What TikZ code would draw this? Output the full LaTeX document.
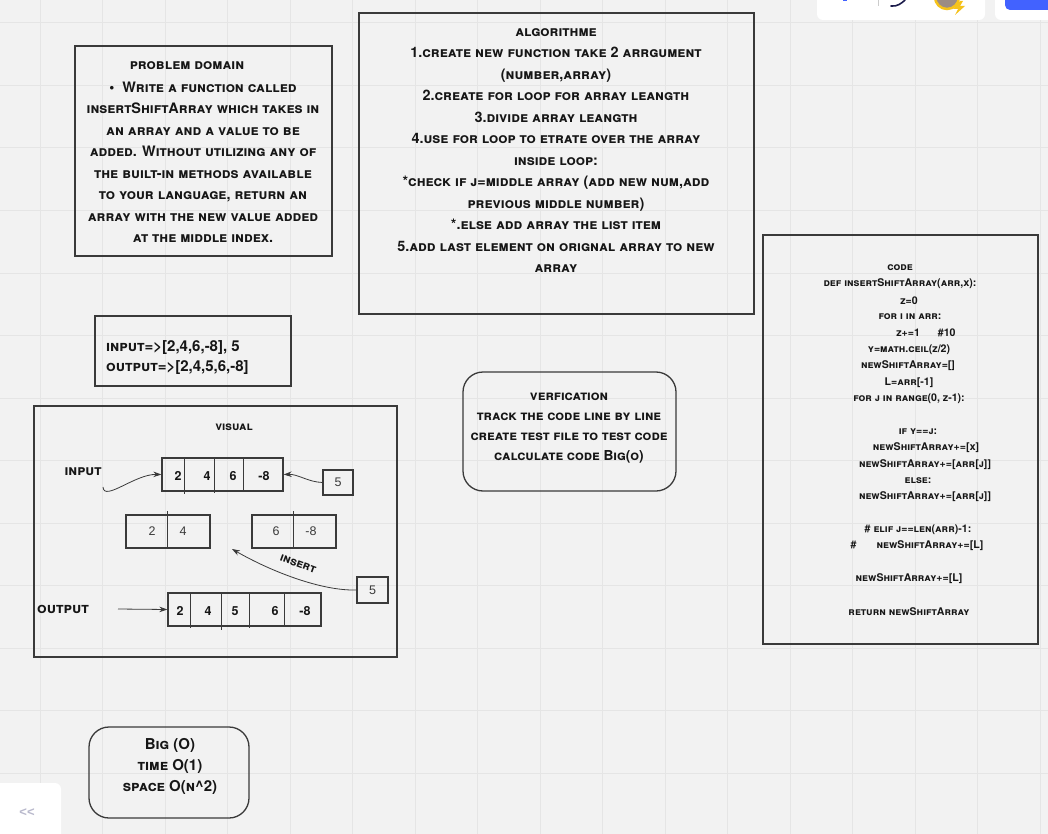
\documentclass[tikz,border=0pt]{standalone}
\usepackage{fontspec}
\newfontfamily\handfont[Letters=SmallCaps]{TeX Gyre Heros}
\newfontfamily\plainfont{Liberation Sans}
\usetikzlibrary{arrows.meta,positioning}

\definecolor{boardbg}{HTML}{F2F2F2}
\definecolor{gridline}{HTML}{E5E5E5}
\definecolor{boxline}{HTML}{3A3A3A}
\definecolor{inkcol}{HTML}{161616}
\definecolor{toolblue}{HTML}{4262FF}
\definecolor{toolnavy}{HTML}{1B1B4B}
\definecolor{avatarring}{HTML}{F5C21B}
\definecolor{avatarface}{HTML}{9C8C84}
\definecolor{chevron}{HTML}{B9B9CC}

\begin{document}
\begin{tikzpicture}[x=1pt,y=-1pt,
    frame/.style={draw=boxline,line width=1.3pt,inner sep=0pt},
    roundframe/.style={frame,rounded corners=20pt},
    hand/.style={font=\handfont\bfseries\fontsize{14.4}{21.5}\selectfont,text=inkcol,inner sep=0pt},
    handmid/.style={font=\handfont\bfseries\fontsize{13.7}{20}\selectfont,text=inkcol,inner sep=0pt},
    handbig/.style={font=\handfont\bfseries\fontsize{15}{21}\selectfont,text=inkcol,inner sep=0pt},
    handsmall/.style={font=\handfont\bfseries\fontsize{12}{14}\selectfont,text=inkcol,inner sep=0pt},
    handcode/.style={font=\handfont\bfseries\fontsize{10.6}{16.3}\selectfont,text=inkcol,inner sep=0pt},
    handnum/.style={font=\handfont\bfseries\fontsize{12.5}{14}\selectfont,text=inkcol,inner sep=0pt},
    plainnum/.style={font=\plainfont\fontsize{12.5}{14}\selectfont,text=boxline,inner sep=0pt},
    divider/.style={draw=boxline,line width=0.9pt},
    arr/.style={draw=boxline,line width=0.8pt,-{Stealth[length=8pt,width=5.5pt]}}]

% board and grid
\useasboundingbox (0,0) rectangle (1048,834);
\fill[boardbg] (0,0) rectangle (1048,834);
\foreach \gx in {0,...,16} \draw[gridline,line width=1pt] (40+62.5*\gx,0) -- (40+62.5*\gx,834);
\foreach \gy in {0,...,12} \draw[gridline,line width=1pt] (0,23+62.5*\gy) -- (1048,23+62.5*\gy);

% toolbar bits at the top and bottom
\fill[white,rounded corners=6pt] (817,-10) rectangle (985,20);
\fill[white,rounded corners=6pt] (995,-10) rectangle (1058,20);
\fill[toolblue,rounded corners=5pt] (1005,-10) rectangle (1058,10);
\fill[toolblue] (843,-1) rectangle (847,1.5);
\draw[gray!40,line width=1pt] (878,0) -- (878,6);
\draw[toolnavy,line width=1.6pt,line cap=round] (891,6) .. controls (897,7) and (902,3) .. (905,0);
\draw[avatarring,line width=2.5pt,fill=avatarface] (947,-3) circle (12);
\fill[avatarring] (960,1) -- (953,9) -- (958,9) -- (955,15) -- (965,6) -- (960,6) -- (963,1) -- cycle;
\fill[white,rounded corners=6pt] (-10,783) rectangle (61,844);
\node[font=\plainfont\bfseries\fontsize{13}{14}\selectfont,text=chevron] (backbtn) at (27,813) {<<};

% problem domain
\node[frame,minimum width=257pt,minimum height=210pt] (domainbox) at (203.5,151) {};
\node[hand] (domaintitle) at (187,66) {problem domain};
\node[hand,align=center] (domaintext) at (203,162.5) {\textbullet\ \ Write a function called\\
  insertShiftArray which takes in\\ an array and a value to be\\
  added. Without utilizing any of\\ the built-in methods available\\
  to your language, return an\\ array with the new value added\\ at the middle index.};

% algorithm
\node[frame,minimum width=395pt,minimum height=301pt] (algobox) at (556.5,163.5) {};
\node[hand,align=center] (algotext) at (556,150.5) {algorithme\\
  1.create new function take 2 arrgument\\ (number,array)\\
  2.create for loop for array leangth\\ 3.divide array leangth\\
  4.use for loop to etrate over the array\\ inside loop:\\
  *check if j=middle array (add new num,add\\ previous middle number)\\
  *.else add array the list item\\
  5.add last element on orignal array to new\\ array};

% code
\node[frame,minimum width=275pt,minimum height=409pt] (codebox) at (900.5,439.5) {};
\node[handcode] (code0) at (900,268) {code};
\node[handcode] (code1) at (900,284) {def insertShiftArray(arr,x):};
\node[handcode] (code2) at (909,301) {z=0};
\node[handcode] (code3) at (910,317) {for i in arr:};
\node[handcode] (code4) at (926,333) {z+=1\hspace{18pt}\#10};
\node[handcode] (code5) at (909,350) {y=math.ceil(z/2)};
\node[handcode] (code6) at (908,366) {newShiftArray=[]};
\node[handcode] (code7) at (909,383) {L=arr[-1]};
\node[handcode] (code8) at (909,399) {for j in range(0, z-1):};
\node[handcode] (code9) at (918,432) {if y==j:};
\node[handcode] (code10) at (926,448) {newShiftArray+=[x]};
\node[handcode] (code11) at (925,465) {newShiftArray+=[arr[j]]};
\node[handcode] (code12) at (918,481) {else:};
\node[handcode] (code13) at (925,497) {newShiftArray+=[arr[j]]};
\node[handcode] (code14) at (918,530) {\# elif j==len(arr)-1:};
\node[handcode] (code15) at (917,546) {\#\hspace{20pt}newShiftArray+=[L]};
\node[handcode] (code16) at (909,579) {newShiftArray+=[L]};
\node[handcode] (code17) at (909,612) {return newShiftArray};

% input / output example
\node[frame,minimum width=196pt,minimum height=70pt] (iobox) at (193,351) {};
\node[handbig,font=\handfont\bfseries\fontsize{15}{20}\selectfont,align=left,anchor=west] (iotext) at (106,358) {input=>[2,4,6,-8], 5\\ output=>[2,4,5,6,-8]};

% verification
\node[roundframe,minimum width=213pt,minimum height=119pt] (verifybox) at (569.5,431.5) {};
\node[handmid,align=center] (verifytext) at (569,428) {verfication\\ track the code line by line\\
  create test file to test code\\ calculate code Big(o)};

% big o
\node[roundframe,minimum width=160pt,minimum height=91pt] (bigobox) at (169,772.5) {};
\node[handbig,align=center] (bigotext) at (170,766) {Big (O)\\ time O(1)\\ space O(n\textasciicircum 2)};

% visual
\node[frame,minimum width=363pt,minimum height=251pt] (visualbox) at (215.5,531.5) {};
\node[handsmall] (visualtitle) at (234,427) {visual};
\node[hand] (inlabel) at (83,472) {input};
\node[handbig] (outlabel) at (63,609) {output};

% input array
\node[frame,minimum width=121pt,minimum height=33pt] (inarr) at (222.5,474.5) {};
\draw[divider] (184,457) -- (184,494);
\draw[divider] (214,458) -- (214,493);
\draw[divider] (243,458) -- (243,491);
\node[handnum] (in1) at (178,476) {2};
\node[handnum] (in2) at (207,476) {4};
\node[handnum] (in3) at (233,476) {6};
\node[handnum] (in4) at (264,476) {-8};
\node[frame,plainnum,minimum width=30pt,minimum height=25pt] (newval) at (338,482.5) {5};

% split halves
\node[frame,minimum width=84pt,minimum height=33pt] (lefthalf) at (168,531.5) {};
\draw[divider] (167,511) -- (167,548);
\node[plainnum] (half1) at (152,531) {2};
\node[plainnum] (half2) at (183,531) {4};
\node[frame,minimum width=84pt,minimum height=33pt] (righthalf) at (294,531.5) {};
\draw[divider] (293,511) -- (293,548);
\node[plainnum] (half3) at (276,531) {6};
\node[plainnum] (half4) at (311,531) {-8};
\node[frame,plainnum,minimum width=31pt,minimum height=26pt] (insval) at (372.5,590) {5};

% output array
\node[frame,minimum width=153pt,minimum height=33pt] (outarr) at (244.5,609.5) {};
\draw[divider] (190,593) -- (190,628);
\draw[divider] (221,593) -- (221,630);
\draw[divider] (249,593) -- (249,628);
\draw[divider] (284,593) -- (284,627);
\node[handnum] (out1) at (180,611) {2};
\node[handnum] (out2) at (208,611) {4};
\node[handnum] (out3) at (235,611) {5};
\node[handnum] (out4) at (275,611) {6};
\node[handnum] (out5) at (305,611) {-8};

% connectors
\coordinate (incurve) at (103,487);
\coordinate (inspt) at (232,549);
\coordinate (outstart) at (118,609);
\draw[arr] (incurve) .. controls (104,502) and (135,474) .. (inarr.west);
\draw[arr] (newval.west) .. controls (308,482) and (298,474) .. (inarr.east);
\draw[arr] (insval.west) .. controls (322,591) and (272,572) .. (inspt);
\node[handsmall,rotate=-20] (inslabel) at (298,564) {insert};
\draw[arr] (outstart) -- (outarr.west);

\end{tikzpicture}
\end{document}
